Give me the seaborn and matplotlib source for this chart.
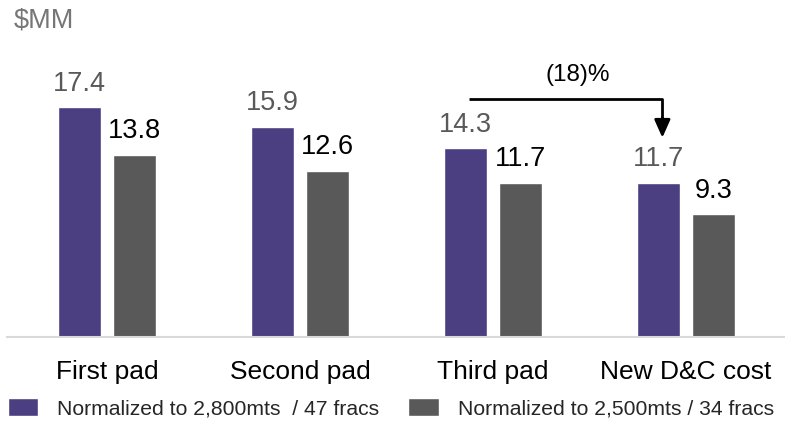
import matplotlib
matplotlib.use("Agg")
import matplotlib.pyplot as plt
from matplotlib.patches import Patch
import seaborn as sns
import pandas as pd

# Cost per pad, $MM
categories = ["First pad", "Second pad", "Third pad", "New D&C cost"]
series_names = ["Normalized to 2,800mts  / 47 fracs", "Normalized to 2,500mts / 34 fracs"]
values_2800 = [17.4, 15.9, 14.3, 11.7]
values_2500 = [13.8, 12.6, 11.7, 9.3]
change_label = "(18)%"

purple = "#4B3F82"
grey = "#595959"
label_colors = ["#595959", "#000000"]

df = pd.DataFrame({
    "category": categories * 2,
    "series": [series_names[0]] * 4 + [series_names[1]] * 4,
    "value": values_2800 + values_2500,
})

sns.set_theme(style="white")
plt.rcParams["font.family"] = ["Liberation Sans", "DejaVu Sans"]

fig = plt.figure(figsize=(7.85, 4.21), dpi=100)
ax = fig.add_axes([0.009, 0.1995, 0.991, 0.627])

sns.barplot(data=df, x="category", y="value", hue="series",
            palette=[purple, grey], width=0.57, gap=0.22,
            saturation=1, legend=False, ax=ax)

ax.set_ylim(0, 20)
ax.set_xlim(-0.518, 3.513)
ax.set_xlabel("")
ax.set_ylabel("")
ax.set_yticks([])
for s in ["top", "left", "right"]:
    ax.spines[s].set_visible(False)
ax.spines["bottom"].set_color("#d9d9d9")
ax.spines["bottom"].set_linewidth(1.5)
ax.tick_params(axis="x", length=0, pad=16.5, labelsize=19, labelcolor="black")

# value labels above each bar
for container, color in zip(ax.containers, label_colors):
    for bar in container:
        h = bar.get_height()
        ax.annotate(f"{h:.1f}", (bar.get_x() + bar.get_width() / 2, h),
                    xytext=(0, 12), textcoords="offset points",
                    ha="center", va="baseline", fontsize=19.5, color=color)

# bracket arrow from third pad to the new D&C cost
p_bars = ax.containers[0]
x0 = p_bars[2].get_x() + p_bars[2].get_width() / 2 + 0.02
x1 = p_bars[3].get_x() + p_bars[3].get_width() / 2 + 0.02
y_top = 18.0
y_tip = 15.1
ax.plot([x0, x1, x1], [y_top, y_top, y_tip + 1.0], color="black", lw=2,
        solid_capstyle="butt", clip_on=False)
ax.annotate("", xy=(x1, y_tip), xytext=(x1, y_tip + 1.5),
            arrowprops=dict(arrowstyle="-|>,head_length=0.9,head_width=0.4",
                            color="black", lw=2, shrinkA=0, shrinkB=0),
            annotation_clip=False)
ax.text((x0 + x1) / 2 + 0.06, 19.4, change_label, ha="center", va="baseline",
        fontsize=17.5, color="black")

fig.text(14 / 785, 1 - 27 / 421, "$MM", ha="left", va="baseline",
         fontsize=19.5, color="#767676")

handles = [Patch(facecolor=purple), Patch(facecolor=grey)]
fig.legend(handles, series_names, ncol=2, loc="lower left",
           bbox_to_anchor=(-5 / 785, -10 / 421), frameon=False,
           fontsize=15.2, handlelength=1.45, handleheight=0.95,
           handletextpad=0.9, columnspacing=1.35, borderaxespad=0.2)

fig.savefig("out.png", dpi=100)
